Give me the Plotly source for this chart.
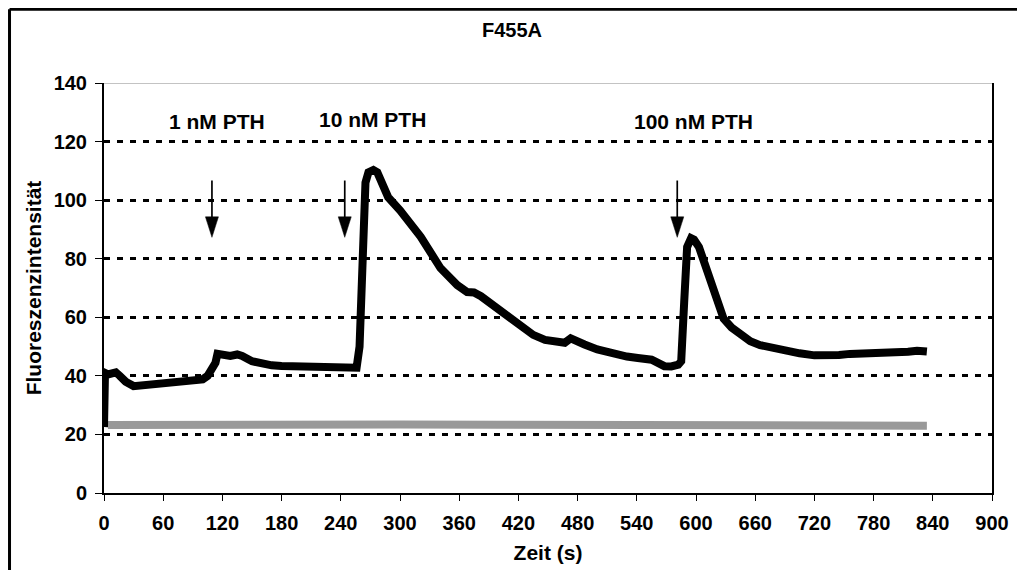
import plotly.graph_objects as go

# ---- data ----
t_black = [0, 1, 4, 8, 12, 16, 22, 30, 40, 50, 60, 70, 80, 90, 100, 105, 110, 113, 115,
           120, 128, 135, 140, 150, 160, 170, 180, 200, 220, 230, 240, 250, 256, 259, 262,
           265, 268, 273, 277, 280, 284, 288, 300, 321, 341, 350, 358, 368, 375, 382, 395,
           406, 422, 435, 447, 460, 467, 473, 480, 487, 500, 518, 530, 541, 555, 568, 575,
           582, 585, 588, 591, 595, 598, 603, 608, 612, 616, 620, 624, 628, 636, 645, 655,
           665, 678, 690, 705, 720, 730, 745, 756, 770, 790, 807, 815, 824, 834]
v_black = [22.5, 41, 40.5, 40.8, 41.2, 40, 38, 36.5, 36.8, 37.2, 37.6, 37.9, 38.2, 38.5, 38.8,
           40, 43, 44.5, 47.5, 47.2, 46.8, 47.3, 46.8, 45, 44, 43.6, 43.4, 43.2, 42.9, 42.5,
           42.4, 42.3, 42.8, 50, 80, 106, 109.5, 110.3, 109.5, 107.5, 104, 101, 96.5, 87.5,
           76.8, 73.5, 71, 68.6, 68.5, 67.2, 64, 61.5, 57, 54, 52.3, 51.5, 51.3, 52.8, 51.5,
           50.7, 49, 47.3, 46.6, 46.1, 45.5, 43.3, 43.2, 43.8, 45, 65, 84, 87, 86.5, 84, 79,
           75, 71, 66.5, 62, 59.5, 56.5, 54, 51.8, 50.5, 49.4, 48.6, 47.7, 47.0, 46.8, 47.1,
           47.5, 47.6, 47.6, 47.8, 48.2, 48.6, 48.3]

t_gray = [4, 100, 200, 300, 400, 500, 600, 700, 834]
v_gray = [23.2, 23.4, 23.5, 23.4, 23.3, 23.3, 23.3, 23.2, 23.0]

label_text = ["1 nM PTH", "10 nM PTH", "100 nM PTH"]
label_t = [115, 272, 597]
label_v = [126.8, 127.6, 127.0]

arrow_t = [109.4, 244, 581]
arrow_top = 106.7
arrow_tip = 87.3

x_ticks = list(range(0, 901, 60))
y_ticks = list(range(0, 141, 20))

FONT = "Liberation Sans, Arial, sans-serif"

fig = go.Figure()
fig.add_trace(go.Scatter(x=t_gray, y=v_gray, mode="lines",
                         line=dict(color="#999999", width=8), showlegend=False))
fig.add_trace(go.Scatter(x=t_black, y=v_black, mode="lines",
                         line=dict(color="black", width=8), showlegend=False))

# arrows: shaft + head, built from arrow lists
head_len = 7.0    # y-units
head_half = 6.6   # x-units
for t in arrow_t:
    fig.add_shape(type="line", x0=t, x1=t, y0=arrow_top, y1=arrow_tip + head_len * 0.5,
                  xref="x", yref="y", line=dict(color="black", width=1.7))
    fig.add_shape(type="path", xref="x", yref="y",
                  path=f"M{t - head_half},{arrow_tip + head_len} L{t + head_half},{arrow_tip + head_len} L{t},{arrow_tip} Z",
                  fillcolor="black", line=dict(color="black", width=0.5))

for txt, t, v in zip(label_text, label_t, label_v):
    fig.add_annotation(x=t, y=v, text=txt, showarrow=False, xref="x", yref="y",
                       font=dict(family=FONT, size=21, color="black", weight="bold"))

# thin gray top edge of plot area
fig.add_shape(type="line", xref="paper", yref="y", x0=0, x1=1, y0=140, y1=140,
              line=dict(color="#888888", width=1), layer="below")

# outer frame (left and top visible)
fig.add_shape(type="line", xref="paper", yref="paper", x0=-0.1064, x1=-0.1064, y0=-0.3, y1=1.18,
              line=dict(color="black", width=3))
fig.add_shape(type="line", xref="paper", yref="paper", x0=-0.1064, x1=1.2, y0=1.18, y1=1.18,
              line=dict(color="black", width=3))

fig.update_layout(
    width=1025, height=570,
    margin=dict(l=96, r=41, t=75, b=85),
    paper_bgcolor="white", plot_bgcolor="white",
    title=dict(text="F455A", x=(512 - 8) / 1025, xanchor="center", y=1 - 22 / 570, yanchor="middle",
               yref="container",
               font=dict(family=FONT, size=20, color="black", weight="bold")),
    font=dict(family=FONT, color="black"),
)
fig.update_xaxes(range=[0, 900], tickmode="array", tickvals=x_ticks, ticktext=[str(v) for v in x_ticks],
                 showgrid=False, zeroline=False, showline=True, linecolor="black", linewidth=2,
                 ticks="outside", ticklen=6, tickwidth=1, tickcolor="black", ticklabelstandoff=5,
                 tickfont=dict(family=FONT, size=20, color="black", weight="bold"),
                 title=dict(text="Zeit (s)", standoff=12,
                            font=dict(family=FONT, size=21, color="black", weight="bold")))
fig.update_yaxes(range=[0, 140], tickmode="array", tickvals=y_ticks, ticktext=[str(v) for v in y_ticks],
                 showgrid=True, gridcolor="black", gridwidth=3, griddash="6px,7px",
                 zeroline=False, showline=True, mirror=True, linecolor="black", linewidth=2,
                 ticks="outside", ticklen=7, tickwidth=1, tickcolor="black", ticklabelstandoff=4,
                 tickfont=dict(family=FONT, size=20, color="black", weight="bold"),
                 title=dict(text="Fluoreszenzintensität", standoff=6,
                            font=dict(family=FONT, size=21, color="black", weight="bold")))

fig.write_html("out.html")
